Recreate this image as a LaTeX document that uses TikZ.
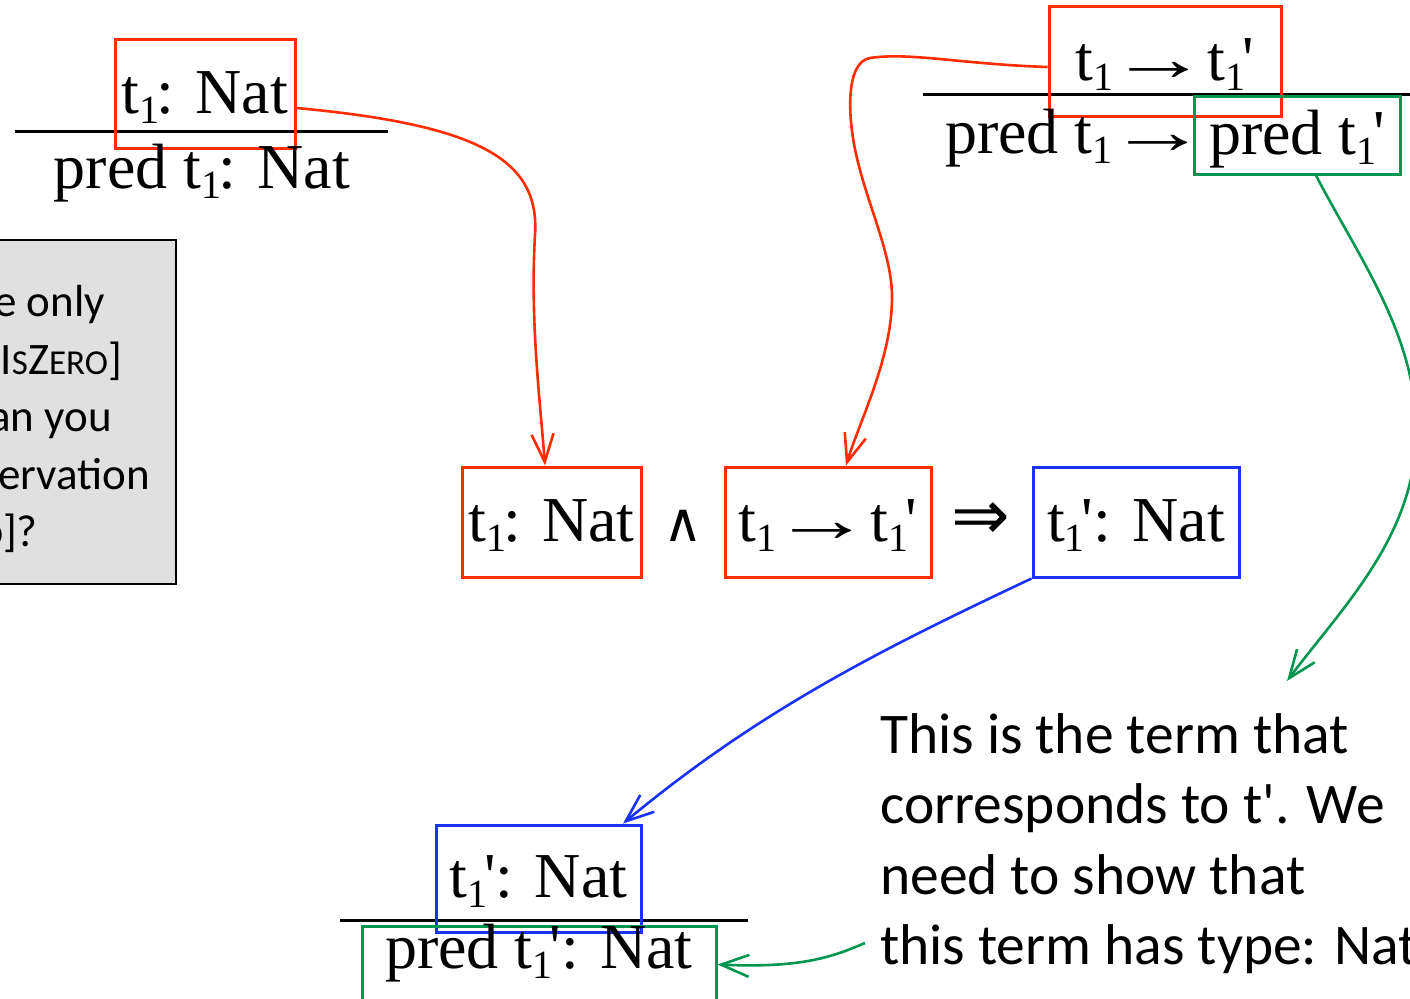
\documentclass[tikz,border=0pt]{standalone}
\usepackage{fontspec}
\usepackage{graphicx}
\setmainfont{Liberation Serif}[Ligatures=TeXOff]
\newfontfamily\calfont{Carlito}[Ligatures=TeXOff]
\newfontfamily\symfont{DejaVu Sans}
\usetikzlibrary{arrows.meta}
\definecolor{myred}{RGB}{255,45,0}
\definecolor{myblue}{RGB}{25,50,255}
\definecolor{mygreen}{RGB}{0,150,80}
\definecolor{notegray}{RGB}{224,224,224}
\newcommand\sub[1]{\raisebox{-10pt}{\fontsize{40}{40}\selectfont #1}\kern-3pt}
\newcommand\smc[1]{{\fontsize{35}{35}\selectfont #1}}
\newcommand\steparrow{\kern-1pt\scalebox{1.55}[1]{→}\kern-17pt}
\begin{document}
\begin{tikzpicture}[x=1pt,y=-1pt,
  lbl/.style={inner sep=0pt, font=\fontsize{64}{70}\selectfont},
  termbox/.style={lbl, draw, line width=3pt, text height=46pt, text depth=8pt},
  redbox/.style={termbox, draw=myred},
  bluebox/.style={termbox, draw=myblue},
  greenbox/.style={termbox, draw=mygreen},
  rulebar/.style={line width=3pt, black},
  link/.style={line width=2.6pt, -{Straight Barb[length=28pt,width=22pt]}},
  notebox/.style={draw=black, line width=2pt, fill=notegray, inner sep=0pt},
  notetext/.style={inner sep=0pt, anchor=base east, font=\calfont\fontsize{45}{54}\selectfont},
  prose/.style={inner sep=0pt, anchor=base west, font=\calfont\fontsize{57.5}{70}\selectfont},
]
\useasboundingbox (0,0) rectangle (1410,998);
\clip (0,0) rectangle (1410,998);

% note box on the left (cut off by the frame)
\node[notebox, anchor=north east, minimum width=220pt, minimum height=344pt] (note) at (177,239) {};
\node[notetext] (n1) at (105,316) {e only};
\node[notetext] (n2) at (122,374) {I\smc{S}Z\smc{ERO}]};
\node[notetext] (n3) at (112,431) {an you};
\node[notetext] (n4) at (150,489) {ervation};
\node[notetext] (n5) at (38,546) {\smc{O}]?};

% rule bars
\draw[rulebar] (15,131) -- (388,131);
\draw[rulebar] (923,94) -- (1420,94);
\draw[rulebar] (340,920) -- (748,920);

% top-left rule
\node[redbox, minimum width=180pt, minimum height=108pt] (tlprem) at (205,94) {t\sub{1}: Nat};
\node[lbl, anchor=base] (tlconc) at (202,188) {pred t\sub{1}: Nat};

% top-right rule
\node[redbox, minimum width=232pt, minimum height=109pt] (trprem) at (1165,61.5) {t\sub{1} \steparrow{} t\sub{1}'};
\node[lbl, anchor=base west] (trconc) at (945,153) {pred t\sub{1} \steparrow};
\node[greenbox, minimum width=206pt, minimum height=78pt] (trgreen) at (1297,135) {pred t\sub{1}'};

% middle row
\node[redbox, minimum width=179pt, minimum height=110pt] (m1) at (551.5,522) {t\sub{1}: Nat};
\node[inner sep=0pt, font=\symfont\fontsize{54}{54}\selectfont] (wedge) at (683,526) {∧};
\node[redbox, minimum width=206pt, minimum height=110pt] (m2) at (828,522) {t\sub{1} \steparrow{} t\sub{1}'};
\node[inner sep=0pt, font=\symfont\fontsize{70}{70}\selectfont] (impl) at (981,521) {⇒};
\node[bluebox, minimum width=206pt, minimum height=110pt] (m3) at (1136,522) {t\sub{1}': Nat};

% bottom rule
\node[bluebox, minimum width=205pt, minimum height=107pt] (bprem) at (538.5,878.5) {t\sub{1}': Nat};
\node[greenbox, anchor=north, minimum width=354pt, text height=42pt, text depth=100pt] (bconc) at (539,925) {pred t\sub{1}': Nat};

% explanation
\node[prose] (p1) at (880,753) {This is the term that};
\node[prose] (p2) at (880,823) {corresponds to t'. We};
\node[prose] (p3) at (880,894) {need to show that};
\node[prose] (p4) at (880,964) {this term has type: Nat};

\coordinate (gtip) at (1287,681);
\coordinate (gstart) at (865,943);

% connectors
\draw[link, myred] ([yshift=-14pt]tlprem.east) .. controls (480,125) and (540,160) .. (535,235)
   .. controls (530,320) and (540,400) .. ([xshift=-6.5pt]m1.north);
\draw[link, myred] ([yshift=-5.5pt]trprem.west) .. controls (960,64) and (910,52) .. (870,58)
   .. controls (845,62) and (846,120) .. (860,170)
   .. controls (872,215) and (893,260) .. (892,300)
   .. controls (891,360) and (860,420) .. ([xshift=18pt]m2.north);
\draw[link, myblue] (m3.south west) .. controls (880,650) and (760,710) .. ([xshift=84.5pt]bprem.north);
\draw[link, mygreen] ([xshift=19pt]trgreen.south) .. controls (1360,260) and (1420,340) .. (1416,440)
   .. controls (1412,540) and (1340,610) .. (gtip);
\draw[link, mygreen] (gstart) .. controls (830,958) and (800,968) .. ([yshift=33pt]bconc.east);
\end{tikzpicture}
\end{document}
